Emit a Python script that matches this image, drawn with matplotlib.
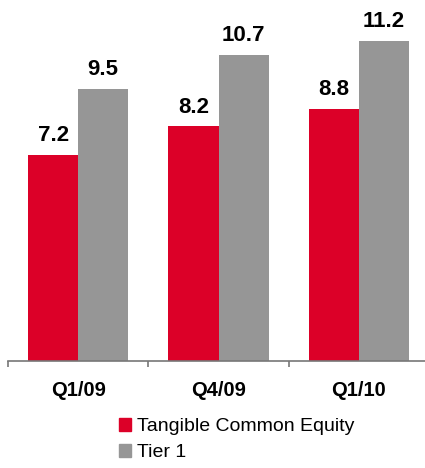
import numpy as np
import matplotlib.pyplot as plt
from matplotlib.patches import Patch

categories = ['Q1/09', 'Q4/09', 'Q1/10']
tce = [7.2, 8.2, 8.8]
tier1 = [9.5, 10.7, 11.2]
series_names = ['Tangible Common Equity', 'Tier 1']

red = '#DC0028'
gray = '#969696'

plt.rcParams['font.family'] = ['Liberation Sans', 'DejaVu Sans']

fig = plt.figure(figsize=(4.25, 4.68), dpi=100)
ax = fig.add_axes([8 / 425, 107 / 468, 421 / 425, 361 / 468])

x = np.arange(len(categories))
w = 0.357
ax.bar(x - w / 2, tce, w, color=red)
ax.bar(x + w / 2, tier1, w, color=gray)

# value labels, baseline ~14px above bar top
for p, q in list(zip(x - w / 2, tce)) + list(zip(x + w / 2, tier1)):
    ax.annotate('%.1f' % q, (p, q), xytext=(0, 10), textcoords='offset points',
                ha='center', va='baseline', fontsize=16, fontweight='bold')

ax.set_xlim(-0.5, 2.5)
ax.set_ylim(0, 12.62)
for s in ['top', 'right', 'left']:
    ax.spines[s].set_visible(False)
ax.spines['bottom'].set_color('#777777')
ax.spines['bottom'].set_linewidth(1.2)
ax.set_yticks([])
ax.set_xticks(x)
ax.set_xticklabels(categories, fontsize=14.5, fontweight='bold')
ax.tick_params(axis='x', which='major', length=0, pad=14.5)
ax.set_xticks([-0.5, 0.5, 1.5, 2.5], minor=True)
ax.tick_params(axis='x', which='minor', length=4.5, width=1.2, color='#777777', direction='out')

handles = [Patch(color=red), Patch(color=gray)]
fig.legend(handles, series_names, loc='upper left', bbox_to_anchor=(111 / 425, 1 - 410 / 468),
           frameon=False, fontsize=14, handlelength=0.65, handleheight=0.65,
           handletextpad=0.3, labelspacing=0.45, borderaxespad=0)

fig.savefig('out.png', dpi=100)
